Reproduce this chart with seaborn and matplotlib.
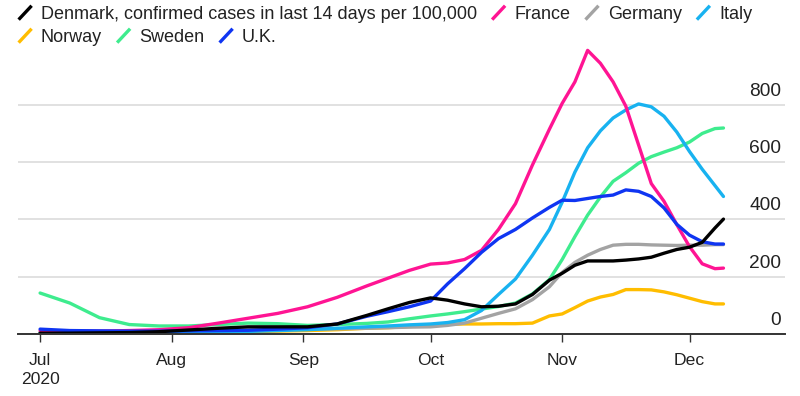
import matplotlib
matplotlib.use("Agg")
import pandas as pd
import matplotlib.pyplot as plt
import seaborn as sns
from matplotlib.legend_handler import HandlerBase
from matplotlib.lines import Line2D
from matplotlib.transforms import ScaledTranslation

# 14-day confirmed cases per 100,000
dates = ['2020-07-01', '2020-07-08', '2020-07-15', '2020-07-22', '2020-07-29',
         '2020-08-05', '2020-08-12', '2020-08-19', '2020-08-26',
         '2020-09-02', '2020-09-09', '2020-09-16', '2020-09-21', '2020-09-26',
         '2020-10-01', '2020-10-05', '2020-10-09', '2020-10-13', '2020-10-17',
         '2020-10-21', '2020-10-25', '2020-10-29',
         '2020-11-01', '2020-11-04', '2020-11-07', '2020-11-10', '2020-11-13',
         '2020-11-16', '2020-11-19', '2020-11-22', '2020-11-25', '2020-11-28',
         '2020-12-01', '2020-12-04', '2020-12-07', '2020-12-09']

denmark = [3, 3, 4, 5, 8, 14, 20, 25, 25, 25, 35, 65, 88, 110,
           126, 118, 105, 95, 97, 105, 138, 188,
           212, 240, 255, 255, 255, 258, 262, 268, 282, 295,
           303, 320, 370, 401]
france = [12, 10, 10, 12, 15, 22, 38, 55, 72, 95, 128, 168, 195, 222,
          244, 248, 260, 292, 365, 455, 590, 715,
          805, 880, 990, 945, 880, 795, 660, 525, 463, 382,
          305, 245, 228, 230]
germany = [5, 5, 5, 6, 7, 9, 11, 13, 15, 17, 18, 20, 22, 24,
           25, 30, 38, 55, 72, 88, 120, 165,
           215, 250, 275, 295, 310, 313, 313, 311, 310, 309,
           310, 310, 312, 312]
italy = [5, 4, 4, 4, 5, 6, 7, 9, 12, 15, 20, 25, 28, 32,
         35, 40, 50, 82, 138, 192, 275, 365,
         460, 565, 650, 709, 754, 782, 803, 793, 760, 705,
         637, 575, 518, 480]
norway = [5, 3, 2, 2, 2, 3, 6, 8, 10, 12, 15, 20, 22, 26,
          30, 34, 35, 35, 36, 36, 38, 63,
          70, 92, 115, 129, 138, 155, 155, 154, 147, 137,
          125, 113, 105, 105]
sweden = [143, 108, 57, 33, 28, 28, 33, 38, 36, 30, 33, 37, 42, 53,
          63, 70, 78, 87, 96, 108, 140, 190,
          260, 340, 415, 478, 533, 563, 596, 619, 635, 650,
          670, 700, 717, 719]
uk = [17, 12, 11, 10, 10, 11, 12, 13, 17, 22, 35, 62, 78, 95,
      115, 175, 228, 285, 333, 365, 405, 442,
      467, 466, 473, 480, 485, 503, 498, 480, 440, 383,
      345, 322, 314, 314]

countries = ['Norway', 'Sweden', 'Germany', 'Italy', 'France', 'U.K.', 'Denmark']
series = {'Denmark': denmark, 'France': france, 'Germany': germany, 'Italy': italy,
          'Norway': norway, 'Sweden': sweden, 'U.K.': uk}
colors = {'Denmark': '#000000', 'France': '#ff1493', 'Germany': '#a3a3a3',
          'Italy': '#18b2f0', 'Norway': '#ffbd00', 'Sweden': '#3eec8e',
          'U.K.': '#0f35f2'}

df = pd.concat([pd.DataFrame({'date': pd.to_datetime(dates), 'cases': v, 'country': k})
                for k, v in series.items()], ignore_index=True)

sns.set_style("white")
plt.rcParams['font.family'] = ['Liberation Sans', 'DejaVu Sans']

fig = plt.figure(figsize=(8, 3.96), dpi=100)
ax = fig.add_axes([18 / 800, 62 / 396, 767 / 800, 286.5 / 396])

sns.lineplot(data=df, x='date', y='cases', hue='country', hue_order=countries,
             palette=colors, linewidth=2.4, legend=False, ax=ax)

ax.set_xlim(pd.Timestamp('2020-06-25 19:00'), pd.Timestamp('2020-12-23 12:00'))
ax.set_ylim(0, 1000)

months = pd.to_datetime(['2020-07-01', '2020-08-01', '2020-09-01',
                         '2020-10-01', '2020-11-01', '2020-12-01'])
ax.set_xticks(months)
ax.set_xticklabels(['Jul\n2020', 'Aug', 'Sep', 'Oct', 'Nov', 'Dec'],
                   linespacing=1.3)
ax.set_xlabel('')
ax.set_ylabel('')

ax.set_yticks([0, 200, 400, 600, 800])
ax.set_yticklabels(['0', '200', '400', '600', '800'])
ax.yaxis.tick_right()
ax.grid(axis='y', color='#dcdcdc', linewidth=1.2)
ax.grid(axis='x', visible=False)

for s in ['top', 'left', 'right']:
    ax.spines[s].set_visible(False)
ax.spines['bottom'].set_color('#333333')
ax.spines['bottom'].set_linewidth(1.4)

ax.tick_params(axis='x', length=6, width=1, color='#333333', labelsize=12.6,
               labelcolor='#222222', pad=8, bottom=True)
ax.tick_params(axis='y', length=0, labelsize=13.8, labelcolor='#222222', pad=-2.9)
shift = ScaledTranslation(0, 9 / 100, fig.dpi_scale_trans)
for lab in ax.get_yticklabels():
    lab.set_horizontalalignment('right')
    lab.set_verticalalignment('baseline')
    lab.set_transform(lab.get_transform() + shift)


class SlashHandler(HandlerBase):
    def create_artists(self, legend, orig_handle, xdescent, ydescent,
                       width, height, fontsize, trans):
        x0 = -xdescent + width * 0.1
        x1 = -xdescent + width * 0.9
        y0 = -ydescent - height * 0.05
        y1 = -ydescent + height * 1.05
        line = Line2D([x0, x1], [y0, y1], color=orig_handle.get_color(),
                      lw=2.4, solid_capstyle='butt')
        line.set_transform(trans)
        return [line]


def proxies(names):
    return [Line2D([], [], color=colors[n]) for n in names]


row1 = ['Denmark', 'France', 'Germany', 'Italy']
row1_labels = ['Denmark, confirmed cases in last 14 days per 100,000',
               'France', 'Germany', 'Italy']
row2 = ['Norway', 'Sweden', 'U.K.']

leg_kw = dict(loc='upper left', bbox_transform=fig.transFigure, frameon=False,
              borderpad=0, borderaxespad=0, handlelength=0.9, handletextpad=0.42,
              columnspacing=0.75, fontsize=13.0, handler_map={Line2D: SlashHandler()})
leg1 = fig.legend(proxies(row1), row1_labels, ncol=4,
                  bbox_to_anchor=(17 / 800, 1 - 6 / 396), **leg_kw)
leg2 = fig.legend(proxies(row2), row2, ncol=3,
                  bbox_to_anchor=(17 / 800, 1 - 29 / 396), **leg_kw)
for leg in (leg1, leg2):
    for t in leg.get_texts():
        t.set_color('#222222')

fig.savefig('out.png', dpi=100)
